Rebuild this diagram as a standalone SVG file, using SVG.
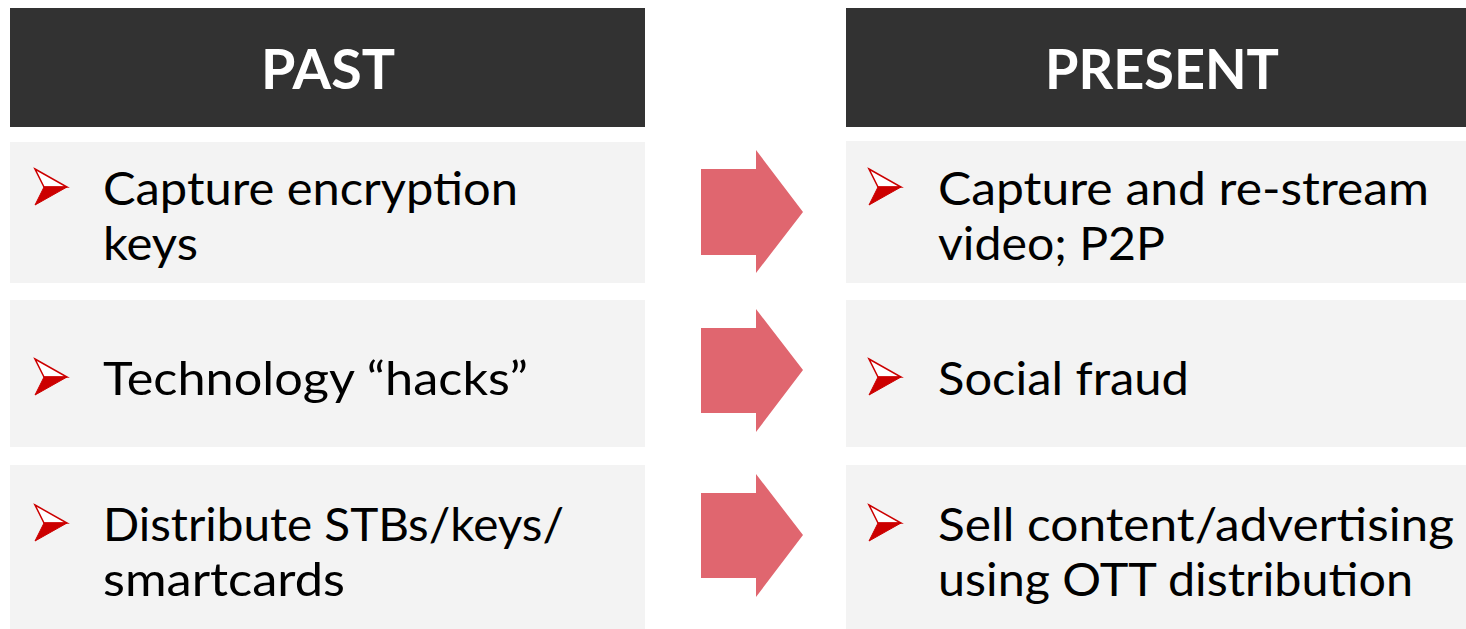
<svg xmlns="http://www.w3.org/2000/svg" width="1466" height="629" viewBox="0 0 1466 629">
  <style>
    .hdr { fill: #323232; }
    .box { fill: #f3f3f3; }
    .hdrtxt { font-family: Lato, "Liberation Sans", sans-serif; font-weight: 700; font-size: 56px; fill: #ffffff; text-anchor: middle; }
    .txt { font-family: Lato, "Liberation Sans", sans-serif; font-size: 46px; fill: #000000; }
    .bul-top { fill: #ffffff; stroke: #cc0000; stroke-width: 1.5; stroke-linejoin: miter; }
    .bul-bot { fill: #cc0000; stroke: #cc0000; stroke-width: 1; }
    .bigarrow { fill: #e0666f; }
  </style>
  <defs>
    <g id="bullet">
      <polygon class="bul-top" points="0,0 32,18 9,18"/>
      <polygon class="bul-bot" points="9,18 32,18 0,36"/>
    </g>
  </defs>
  <rect width="1466" height="629" fill="#ffffff"/>

  <g id="past-header">
    <rect class="hdr" x="10" y="8" width="635" height="119"/>
    <text class="hdrtxt" x="328" y="89" textLength="134" lengthAdjust="spacingAndGlyphs">PAST</text>
  </g>
  <g id="present-header">
    <rect class="hdr" x="846" y="8" width="635" height="119"/>
    <text class="hdrtxt" x="1162" y="89" textLength="234" lengthAdjust="spacingAndGlyphs">PRESENT</text>
  </g>

  <g id="past-1">
    <rect class="box" x="10" y="142" width="635" height="141"/>
    <use href="#bullet" x="35" y="169"/>
    <text class="txt" x="103" y="205" textLength="415" lengthAdjust="spacingAndGlyphs">Capture encryption</text>
    <text class="txt" x="103" y="260" textLength="95" lengthAdjust="spacingAndGlyphs">keys</text>
  </g>
  <g id="past-2">
    <rect class="box" x="10" y="300" width="635" height="147"/>
    <use href="#bullet" x="35" y="359"/>
    <text class="txt" x="103" y="395" textLength="425" lengthAdjust="spacingAndGlyphs">Technology “hacks”</text>
  </g>
  <g id="past-3">
    <rect class="box" x="10" y="465" width="635" height="164"/>
    <use href="#bullet" x="35" y="505"/>
    <text class="txt" x="103" y="541" textLength="461" lengthAdjust="spacingAndGlyphs">Distribute STBs/keys/</text>
    <text class="txt" x="103" y="596" textLength="242" lengthAdjust="spacingAndGlyphs">smartcards</text>
  </g>

  <g id="present-1">
    <rect class="box" x="846" y="141" width="635" height="142"/>
    <use href="#bullet" x="869" y="169"/>
    <text class="txt" x="938" y="205" textLength="491" lengthAdjust="spacingAndGlyphs">Capture and re-stream</text>
    <text class="txt" x="938" y="260" textLength="227" lengthAdjust="spacingAndGlyphs">video; P2P</text>
  </g>
  <g id="present-2">
    <rect class="box" x="846" y="300" width="635" height="147"/>
    <use href="#bullet" x="869" y="359"/>
    <text class="txt" x="938" y="395" textLength="251" lengthAdjust="spacingAndGlyphs">Social fraud</text>
  </g>
  <g id="present-3">
    <rect class="box" x="846" y="465" width="635" height="164"/>
    <use href="#bullet" x="869" y="505"/>
    <text class="txt" x="938" y="541" textLength="516" lengthAdjust="spacingAndGlyphs">Sell content/advertising</text>
    <text class="txt" x="938" y="596" textLength="475" lengthAdjust="spacingAndGlyphs">using OTT distribution</text>
  </g>

  <g id="connectors">
    <polygon class="bigarrow" points="701,169 756,169 756,150 803,212 756,273 756,255 701,255"/>
    <polygon class="bigarrow" points="701,328 756,328 756,309 803,370 756,432 756,413 701,413"/>
    <polygon class="bigarrow" points="701,493 756,493 756,474 803,535 756,597 756,578 701,578"/>
  </g>
</svg>
